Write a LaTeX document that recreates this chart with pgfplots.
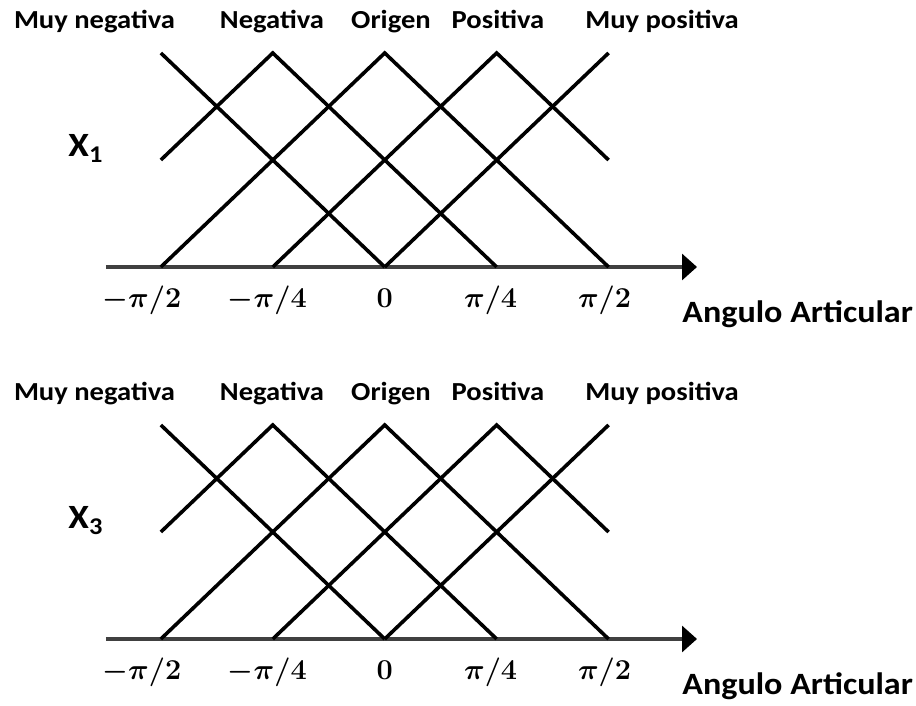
\documentclass[border=0pt]{standalone}
\usepackage{bm}
\usepackage{fontspec}
\setmainfont{Carlito}[FakeStretch=1.1]
\usepackage{pgfplots}
\pgfplotsset{compat=1.18}
\usepackage{pgfplotstable}
\usetikzlibrary{arrows.meta}

% membership functions, x in units of pi/4
\pgfplotstableread{
x y
-2 1
0 0
}\mfmuyneg
\pgfplotstableread{
x y
-2 0.5
-1 1
1 0
}\mfneg
\pgfplotstableread{
x y
-2 0
0 1
2 0
}\mforigen
\pgfplotstableread{
x y
-1 0
1 1
2 0.5
}\mfpos
\pgfplotstableread{
x y
0 0
2 1
}\mfmuypos

\pgfplotsset{
  mfline/.style={black, line width=1.8pt, line join=miter},
  mfpanel/.style={
    scale only axis,
    width=295.5pt, height=107pt,
    xmin=-2.49, xmax=2.79, ymin=0, ymax=1,
    axis x line=bottom, axis y line=none,
    x axis line style={draw=black!75, line width=1.6pt,
      -{Triangle[length=7.5pt,width=13pt,color=black]}},
    clip=false,
    major tick length=0pt,
    xtick={-2,-1,0,1,2},
    xticklabels={{$\bm{-\pi/2}$\rule{19pt}{0pt}},{$\bm{-\pi/4}$\rule{5.5pt}{0pt}},{$\bm{0}$},{$\bm{\pi/4}$\rule{6pt}{0pt}},{$\bm{\pi/2}$\rule{4pt}{0pt}}},
    xticklabel style={font=\fontsize{14.5}{14.5}\selectfont, anchor=base, yshift=-20.5pt},
    ytick=\empty,
  },
}

\newcommand{\panellabels}[2]{%
  \begin{scope}[yshift=#1, font=\fontsize{13}{13}\selectfont\bfseries]
    \node[anchor=base] at (47.25pt,338.5pt) {Muy negativa};
    \node[anchor=base] at (136pt,338.5pt) {Negativa};
    \node[anchor=base] at (195.5pt,338.5pt) {Origen};
    \node[anchor=base] at (249pt,338.5pt) {Positiva};
    \node[anchor=base] at (331pt,338.5pt) {Muy positiva};
    \node[anchor=base west, inner sep=0pt, font=\fontsize{17}{17}\selectfont\bfseries]
      at (34pt,274.5pt) {X{\fontsize{12}{12}\selectfont\raisebox{-3pt}{#2}}};
    \node[anchor=base west, inner sep=0pt, font=\fontsize{15.5}{15.5}\selectfont\bfseries]
      at (341pt,191.5pt) {Angulo Articular};
  \end{scope}%
}

\begin{document}
\begin{tikzpicture}
\useasboundingbox (0,0) rectangle (458pt,353pt);

\begin{axis}[mfpanel, at={(53pt,219.5pt)}, anchor=south west]
  \addplot[mfline] table {\mfmuyneg};
  \addplot[mfline] table {\mfneg};
  \addplot[mfline] table {\mforigen};
  \addplot[mfline] table {\mfpos};
  \addplot[mfline] table {\mfmuypos};
\end{axis}
\panellabels{0pt}{1}

\begin{axis}[mfpanel, at={(53pt,33.5pt)}, anchor=south west]
  \addplot[mfline] table {\mfmuyneg};
  \addplot[mfline] table {\mfneg};
  \addplot[mfline] table {\mforigen};
  \addplot[mfline] table {\mfpos};
  \addplot[mfline] table {\mfmuypos};
\end{axis}
\panellabels{-186pt}{3}

\end{tikzpicture}
\end{document}
